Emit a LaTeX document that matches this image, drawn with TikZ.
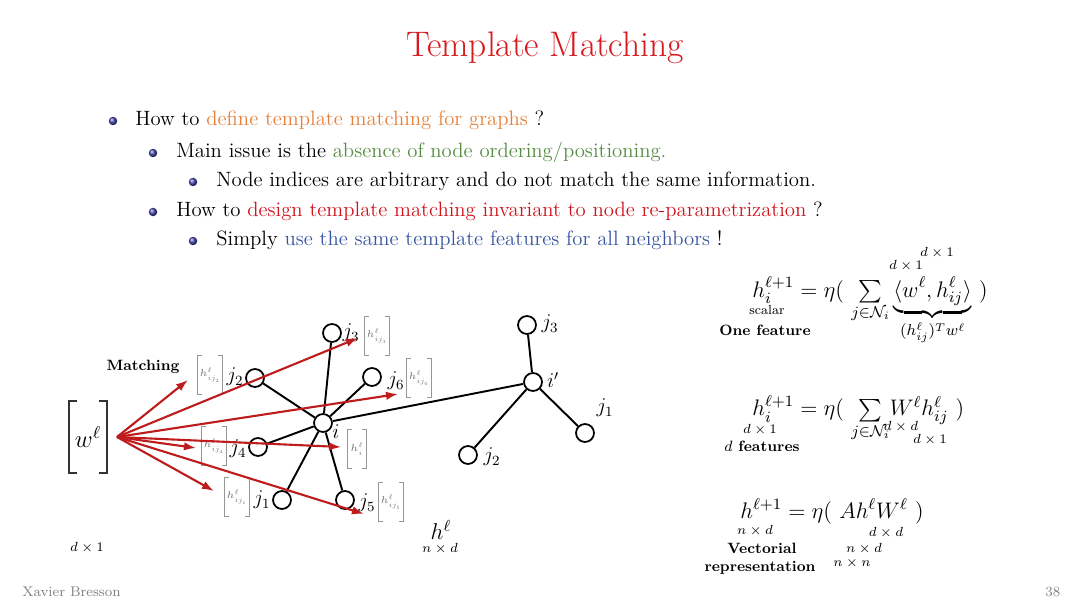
\documentclass[tikz,border=0pt]{standalone}
\usepackage{fix-cm}
\usepackage{amsmath,amssymb}
\usetikzlibrary{arrows.meta}
\definecolor{ttlred}{RGB}{215,25,30}
\definecolor{org}{RGB}{228,128,58}
\definecolor{grn}{RGB}{85,140,65}
\definecolor{rd}{RGB}{205,20,30}
\definecolor{blu}{RGB}{55,85,160}
\definecolor{arr}{RGB}{190,28,28}
\definecolor{ballc}{RGB}{70,70,175}
\definecolor{brk}{RGB}{150,150,150}
\newcommand{\zclap}[1]{\makebox[0pt]{$\scriptstyle #1$}}
\begin{document}
\begin{tikzpicture}[x=0.02cm,y=-0.02cm,
  txt/.style={anchor=base west, inner sep=0pt, font=\fontsize{11.8}{14}\selectfont},
  ballnode/.style={circle, inner sep=0pt, minimum size=0.17cm, ball color=ballc},
  vtx/.style={circle, draw, line width=1pt, minimum size=0.36cm, inner sep=0pt, fill=white},
  edge/.style={line width=1.1pt},
  match/.style={draw=arr, line width=1.2pt, -{Latex[length=2.4mm,width=1.7mm]}},
  lab/.style={inner sep=0pt, font=\fontsize{12}{14}\selectfont},
  hbx/.style={inner sep=0pt, text=black!55, minimum width=0.5cm, minimum height=0.78cm, font=\fontsize{5.6}{6}\selectfont},
  brkline/.style={draw=brk, line width=0.6pt},
  ann/.style={inner sep=0pt, font=\fontsize{7.5}{8}\selectfont},
  bfl/.style={inner sep=0pt, font=\fontsize{8.5}{10}\selectfont\bfseries},
  eq/.style={anchor=base west, inner sep=0pt, font=\fontsize{12.8}{15}\selectfont},
  foot/.style={anchor=base west, inner sep=0pt, text=gray, font=\fontsize{8}{9}\selectfont}
  ]
\useasboundingbox (0,0) rectangle (1080,608);

% title
\node[font=\fontsize{20.2}{24}\selectfont, text=ttlred] (title) at (545,48) {Template Matching};

% bullets
\node[ballnode] (u1) at (113,121) {};
\node[txt] (b1) at (135,126) {How to \textcolor{org}{define template matching for graphs} ?};
\node[ballnode] (u2) at (153,153) {};
\node[txt] (b2) at (176,158) {Main issue is the \textcolor{grn}{absence of node ordering/positioning.}};
\node[ballnode] (u3) at (193,182) {};
\node[txt] (b3) at (216,187) {Node indices are arbitrary and do not match the same information.};
\node[ballnode] (u4) at (153,212) {};
\node[txt] (b4) at (176,217) {How to \textcolor{rd}{design template matching invariant to node re-parametrization} ?};
\node[ballnode] (u5) at (193,241) {};
\node[txt] (b5) at (216,246) {Simply \textcolor{blu}{use the same template features for all neighbors} !};

% formula 1
\node[eq] (f1) at (752,297) {$h_i^{\ell+1} = \eta(\ \sum\limits_{j\in\mathcal{N}_i} \underbrace{\langle w^{\ell}, h^{\ell}_{ij}\rangle}_{(h^{\ell}_{ij})^T w^{\ell}}\ )$};
\node[ann] (a11) at (767,310) {scalar};
\node[ann] (a12) at (906,266) {$d\times 1$};
\node[ann] (a13) at (937,253) {$d\times 1$};
\node[bfl] (one) at (765,330) {One feature};

% formula 2
\node[eq] (f2) at (752,416) {$h_i^{\ell+1} = \eta(\ \ \sum\limits_{\zclap{j\in\mathcal{N}_i}}\, W^{\ell} h^{\ell}_{ij}\ )$};
\node[ann] (a21) at (760,430) {$d\times 1$};
\node[bfl] (dfeat) at (762,446) {$d$ features};
\node[ann] (a22) at (901,427) {$d\times d$};
\node[ann] (a23) at (930,440) {$d\times 1$};

% formula 3
\node[eq] (f3) at (740,518) {$h^{\ell+1} = \eta(\ A h^{\ell} W^{\ell}\ )$};
\node[ann] (a31) at (755,531) {$n\times d$};
\node[ann] (a32) at (886,533) {$d\times d$};
\node[ann] (a33) at (864,549) {$n\times d$};
\node[ann] (a34) at (852,563) {$n\times n$};
\node[bfl] (vec) at (762,548) {Vectorial};
\node[bfl] (rep) at (760,568) {representation};

% footer
\node[foot] (fa) at (22,596) {Xavier Bresson};
\node[foot] (fn) at (1045,596) {38};

% template vector
\node[inner sep=0pt, minimum width=0.74cm, minimum height=1.42cm, font=\fontsize{14}{16}\selectfont] (w) at (88,437) {$w^{\ell}$};
\draw[draw=black!80, line width=0.8pt] ([xshift=4.5pt]w.north west) -| (w.south west) -- ++(4.5pt,0)
      ([xshift=-4.5pt]w.north east) -| (w.south east) -- ++(-4.5pt,0);
\node[bfl] (matching) at (143,367) {Matching};
\node[ann] (dw) at (87,548) {$d\times 1$};
\node[inner sep=0pt, font=\fontsize{13}{15}\selectfont] (hl) at (441,530) {$h^{\ell}$};
\node[ann] (nd) at (440,549) {$n\times d$};

% graph
\node[vtx] (i) at (323,423) {};
\node[vtx] (j3) at (332,333) {};
\node[vtx] (j2) at (255,378) {};
\node[vtx] (j6) at (372,377) {};
\node[vtx] (j4) at (258,447) {};
\node[vtx] (j1) at (282,500) {};
\node[vtx] (j5) at (345,500) {};
\node[vtx] (ip) at (533,382) {};
\node[vtx] (k3) at (527,325) {};
\node[vtx] (k1) at (585,433) {};
\node[vtx] (k2) at (468,455) {};

\draw[edge] (i) -- (j3);
\draw[edge] (i) -- (j2);
\draw[edge] (i) -- (j6);
\draw[edge] (i) -- (j4);
\draw[edge] (i) -- (j1);
\draw[edge] (i) -- (j5);
\draw[edge] (i) -- (ip);
\draw[edge] (ip) -- (k3);
\draw[edge] (ip) -- (k1);
\draw[edge] (ip) -- (k2);

% vertex labels
\node[lab] (lj3) at (351,333) {$j_3$};
\node[lab] (lj2) at (235,377) {$j_2$};
\node[lab] (lj6) at (396,381) {$j_6$};
\node[lab] (li) at (336,432) {$i$};
\node[lab] (lj4) at (238,449) {$j_4$};
\node[lab] (lj1) at (262,500) {$j_1$};
\node[lab] (lj5) at (367,503) {$j_5$};
\node[lab] (lk3) at (550,324) {$j_3$};
\node[lab] (lip) at (553,380) {$i'$};
\node[lab] (lk1) at (605,408) {$j_1$};
\node[lab] (lk2) at (492,457) {$j_2$};

% feature brackets
\node[hbx] (h3) at (377,336) {$h^{\ell}_{ij_3}$};
\node[hbx] (h2) at (210,375) {$h^{\ell}_{ij_2}$};
\node[hbx] (h6) at (419,378) {$h^{\ell}_{ij_6}$};
\node[hbx, minimum width=0.38cm] (hi) at (357,449) {$h^{\ell}_{i}$};
\node[hbx] (h4) at (214,446) {$h^{\ell}_{ij_4}$};
\node[hbx] (h1) at (237,497) {$h^{\ell}_{ij_1}$};
\node[hbx] (h5) at (391,502) {$h^{\ell}_{ij_5}$};
\foreach \n in {h3,h2,h6,hi,h4,h1,h5}
  \draw[brkline] ([xshift=2.5pt]\n.north west) -| (\n.south west) -- ++(2.5pt,0)
                 ([xshift=-2.5pt]\n.north east) -| (\n.south east) -- ++(-2.5pt,0);

% matching arrows
\coordinate (src) at (117,437);
\coordinate (t1) at (188,380);
\coordinate (t2) at (358,338);
\coordinate (t3) at (398,394);
\coordinate (t4) at (196,448);
\coordinate (t5) at (341,447);
\coordinate (t6) at (214,491);
\coordinate (t7) at (364,514);
\draw[match] (src) -- (t1);
\draw[match] (src) -- (t2);
\draw[match] (src) -- (t3);
\draw[match] (src) -- (t4);
\draw[match] (src) -- (t5);
\draw[match] (src) -- (t6);
\draw[match] (src) -- (t7);
\end{tikzpicture}
\end{document}
